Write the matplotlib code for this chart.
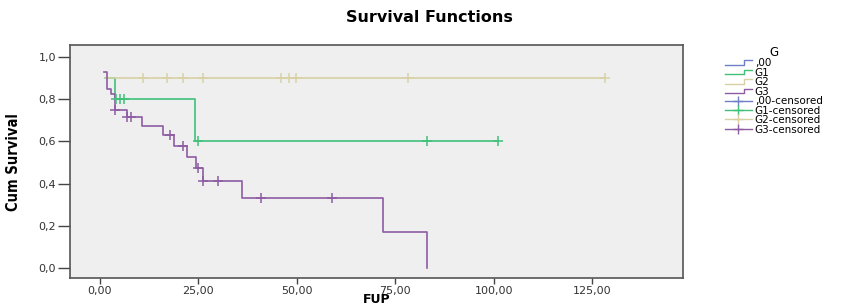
import matplotlib
matplotlib.use("Agg")
import matplotlib.pyplot as plt
from matplotlib.lines import Line2D
from matplotlib.legend_handler import HandlerBase
from matplotlib.ticker import FuncFormatter

# step curves (time where each level starts, survival level)
g1_times = [1.3, 3.8, 24.1, 101.1]
g1_surv = [0.9, 0.8, 0.6, 0.6]
g2_times = [1.3, 128.2]
g2_surv = [0.9, 0.9]
g3_times = [1.1, 1.7, 2.7, 3.8, 6.8, 10.8, 15.9, 18.9, 22.0, 24.4, 26.1, 36.0, 71.9, 83.1]
g3_surv = [0.928, 0.85, 0.823, 0.748, 0.717, 0.673, 0.630, 0.578, 0.525, 0.473, 0.414, 0.334, 0.170, 0.0]

# censored cases
g1_cens_t = [4.1, 5.1, 6.0, 25.0, 83.1, 101.1]
g1_cens_s = [0.8, 0.8, 0.8, 0.6, 0.6, 0.6]
g2_cens_t = [11.0, 16.9, 21.0, 26.1, 46.0, 48.0, 49.9, 78.1, 128.2]
g2_cens_s = [0.9] * 9
g3_cens_t = [3.8, 6.9, 7.8, 17.8, 21.0, 25.0, 26.1, 30.0, 41.0, 59.0]
g3_cens_s = [0.748, 0.717, 0.717, 0.630, 0.578, 0.473, 0.414, 0.414, 0.334, 0.334]

group_names = [",00", "G1", "G2", "G3"]
group_colors = ["#6f80c8", "#3fc17a", "#d8d1a4", "#8d5ca3"]
xticks = [0, 25, 50, 75, 100, 125]
yticks = [0.0, 0.2, 0.4, 0.6, 0.8, 1.0]


class StepHandler(HandlerBase):
    # little "_|‾" shape that SPSS uses for the survival lines
    def create_artists(self, legend, orig_handle, xdescent, ydescent,
                       width, height, fontsize, trans):
        x0 = -xdescent
        y0 = -ydescent
        xs = [x0, x0 + 0.72 * width, x0 + 0.72 * width, x0 + width]
        ys = [y0 + 0.2 * height, y0 + 0.2 * height, y0 + 0.85 * height, y0 + 0.85 * height]
        ln = Line2D(xs, ys, color=orig_handle.get_color(), lw=1.0, transform=trans)
        return [ln]


fig = plt.figure(figsize=(8.59, 3.08), dpi=100)
ax = fig.add_axes([0.0815, 0.0964, 0.7135, 0.7575])
ax.set_facecolor("#efefef")

curves = [(g1_times, g1_surv, group_colors[1]),
          (g2_times, g2_surv, group_colors[2]),
          (g3_times, g3_surv, group_colors[3])]
for t, s, c in curves:
    ax.step(t, s, where="post", color=c, lw=1.2)

cens = [(g1_cens_t, g1_cens_s, group_colors[1]),
        (g2_cens_t, g2_cens_s, group_colors[2]),
        (g3_cens_t, g3_cens_s, group_colors[3])]
for t, s, c in cens:
    ax.plot(t, s, ls="none", marker="+", markersize=7, mew=1.1, color=c)

ax.set_xlim(-7.6, 148)
ax.set_ylim(-0.047, 1.056)
ax.set_xticks(xticks)
ax.set_yticks(yticks)
ax.xaxis.set_major_formatter(FuncFormatter(lambda v, p: ("%.2f" % v).replace(".", ",")))
ax.yaxis.set_major_formatter(FuncFormatter(lambda v, p: ("%.1f" % v).replace(".", ",")))
ax.tick_params(direction="out", width=1, colors="#444444", labelsize=8,
               labelcolor="#333333")
ax.tick_params(axis="x", length=4, pad=1.2)
ax.tick_params(axis="y", length=9, pad=1)
for sp in ax.spines.values():
    sp.set_color("#555555")
    sp.set_linewidth(1.2)

ax.set_xlabel("FUP", fontsize=9, fontweight="bold")
ax.xaxis.set_label_coords(0.5, -0.064)
ax.set_ylabel("Cum Survival", fontsize=10.5, fontweight="bold",
              family=["Liberation Sans Narrow", "DejaVu Sans"], fontstretch="condensed")
ax.yaxis.set_label_coords(-0.092, 0.5)
ax.yaxis.label.set_va("center")
fig.text(0.5, 0.942, "Survival Functions", ha="center", va="center",
         fontsize=11.5, fontweight="bold")

# legend
step_handles = [Line2D([], [], color=c) for c in group_colors]
cens_handles = [Line2D([], [], color=c, marker="+", markersize=7, lw=1.0)
                for c in group_colors]
labels = group_names + [g + "-censored" for g in group_names]
hmap = {h: StepHandler() for h in step_handles}
leg = fig.legend(step_handles + cens_handles, labels, handler_map=hmap,
                 title="G", loc="upper left", bbox_to_anchor=(0.835, 0.875),
                 frameon=False, fontsize=7.5, title_fontsize=8.5,
                 handlelength=2.6, handletextpad=0.3, labelspacing=-0.05,
                 borderpad=0.2, numpoints=1)

fig.savefig("out.png", dpi=100)
